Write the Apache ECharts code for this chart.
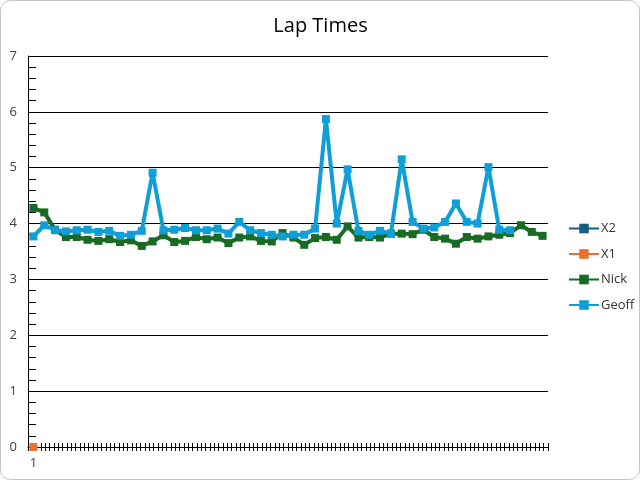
<!DOCTYPE html>
<html>
<head>
<meta charset="utf-8">
<script src="https://cdn.jsdelivr.net/npm/echarts@6/dist/echarts.min.js"></script>
<style>
html,body{margin:0;padding:0;background:#fff;}
#chart{width:641px;height:481px;}
</style>
</head>
<body>
<div id="chart"></div>
<script>
// ---- data ----
const title = 'Lap Times';
const lapLabels = Array.from({length: 48}, (_, i) => String(i + 1));
const yTicks = [0, 1, 2, 3, 4, 5, 6, 7];
const seriesNames = ['X2', 'X1', 'Nick', 'Geoff'];
const x2 = [];
const x1 = [0];
const nick = [4.28, 4.20, 3.89, 3.76, 3.76, 3.71, 3.69, 3.72, 3.67, 3.70,
              3.60, 3.68, 3.79, 3.67, 3.69, 3.76, 3.72, 3.75, 3.65, 3.75,
              3.77, 3.69, 3.68, 3.83, 3.75, 3.62, 3.74, 3.76, 3.71, 3.95,
              3.75, 3.76, 3.75, 3.82, 3.82, 3.81, 3.89, 3.76, 3.73, 3.64,
              3.76, 3.73, 3.77, 3.80, 3.83, 3.97, 3.85, 3.78];
const geoff = [3.77, 3.97, 3.88, 3.86, 3.88, 3.89, 3.85, 3.87, 3.78, 3.80,
               3.87, 4.91, 3.88, 3.89, 3.92, 3.88, 3.88, 3.91, 3.82, 4.03,
               3.88, 3.83, 3.80, 3.77, 3.80, 3.80, 3.91, 5.87, 4.00, 4.97,
               3.87, 3.80, 3.87, 3.82, 5.15, 4.03, 3.91, 3.93, 4.03, 4.36,
               4.03, 4.00, 5.01, 3.89, 3.88];
const colors = {X2: '#156082', X1: '#E97132', Nick: '#196B24', Geoff: '#0F9ED5'};
const seriesData = {X2: x2, X1: x1, Nick: nick, Geoff: geoff};

const font = 'Open Sans, Liberation Sans, sans-serif';
const chart = echarts.init(document.getElementById('chart'));

const tickAxis = (inside) => ({
  type: 'value', min: 0, max: 120, interval: 1, position: 'bottom',
  axisLine: {show: false}, axisLabel: {show: false}, splitLine: {show: false},
  axisTick: {show: true, inside: inside, length: 4, lineStyle: {color: '#000', width: 1}}
});

chart.setOption({
  animation: false,
  backgroundColor: '#fff',
  title: {
    text: title, left: 'center', top: 11,
    textStyle: {fontFamily: font, fontSize: 20, fontWeight: 'normal', color: '#000'}
  },
  graphic: [{
    type: 'rect', shape: {x: 0.5, y: 0.5, width: 639, height: 479, r: 10},
    style: {fill: 'none', stroke: '#c4c4c4', lineWidth: 1}, silent: true
  }],
  legend: {
    orient: 'vertical', left: 563, top: 217,
    data: seriesNames, itemWidth: 30, itemHeight: 12, itemGap: 12.5,
    textStyle: {fontFamily: font, fontSize: 13, color: '#333', padding: [0, 0, 0, -3]}
  },
  grid: {left: 28, right: 93, top: 56, bottom: 34, containLabel: false},
  xAxis: [
    {
      type: 'category', data: lapLabels, boundaryGap: true, position: 'bottom',
      axisLine: {show: true, lineStyle: {color: '#000', width: 1}},
      axisTick: {show: false},
      axisLabel: {interval: (i) => i === 0, margin: 10, fontFamily: font, fontSize: 13, color: '#404040'},
      splitLine: {show: false}
    },
    tickAxis(false),
    tickAxis(true)
  ],
  yAxis: [
    {
      type: 'value', position: 'left', min: yTicks[0], max: yTicks[yTicks.length - 1], interval: 1,
      axisLine: {show: true, lineStyle: {color: '#000', width: 1}},
      axisTick: {show: false},
      axisLabel: {margin: 11, fontFamily: font, fontSize: 13, color: '#404040'},
      splitLine: {show: true, lineStyle: {color: '#000', width: 1}}
    },
    {
      type: 'value', position: 'left', offset: 4, min: yTicks[0], max: yTicks[yTicks.length - 1], interval: 1,
      axisLine: {show: true, lineStyle: {color: 'rgba(0,0,0,0)', width: 1}},
      axisTick: {show: true, inside: true, length: 8, lineStyle: {color: '#000', width: 1}},
      minorTick: {show: true, splitNumber: 5, length: 8, lineStyle: {color: '#000', width: 1}},
      axisLabel: {show: false},
      splitLine: {show: false}
    }
  ],
  series: seriesNames.map((name) => ({
    name: name, type: 'line', xAxisIndex: 0, yAxisIndex: 0,
    data: seriesData[name],
    symbol: 'rect', symbolSize: 8, showAllSymbol: true,
    itemStyle: {color: colors[name]},
    lineStyle: {color: colors[name], width: 4},
    emphasis: {disabled: true}
  }))
});
</script>
</body>
</html>
